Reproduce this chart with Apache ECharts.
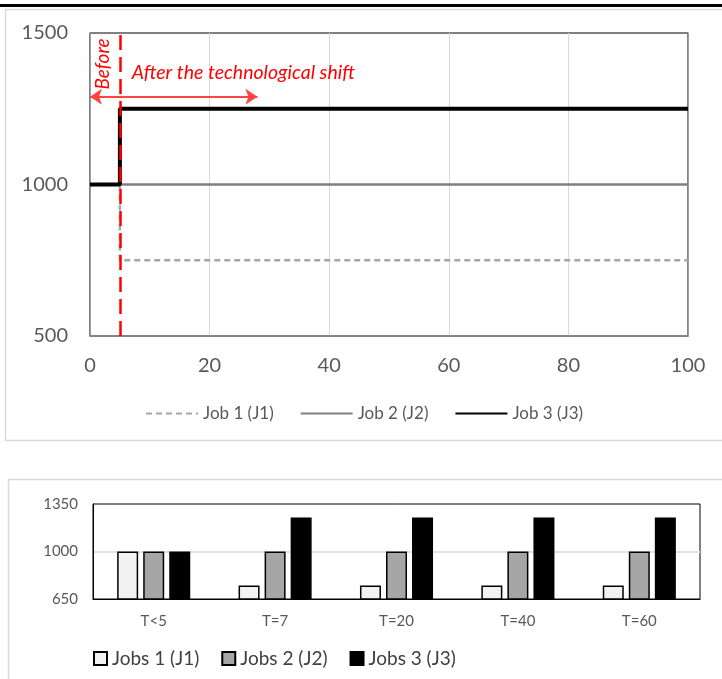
<!DOCTYPE html>
<html>
<head>
<meta charset="utf-8">
<script src="https://cdn.jsdelivr.net/npm/echarts@6/dist/echarts.min.js"></script>
<style>html,body{margin:0;padding:0;background:#fff;}#c{width:722px;height:679px;}</style>
</head>
<body>
<div id="c"></div>
<script>
// ---- top chart data ----
const jobX = [0, 5, 5, 100];
const job1 = [1000, 1000, 750, 750];
const job2 = [1000, 1000, 1000, 1000];
const job3 = [1000, 1000, 1250, 1250];
const lineNames = ['Job 1 (J1)', 'Job 2 (J2)', 'Job 3 (J3)'];
const shiftT = 5;
const arrowFrom = [0, 1290];
const arrowTo = [28, 1290];
const beforeAt = [2.2, 1398];
const afterAt = [7, 1368];
// ---- bottom chart data ----
const barCats = ['T<5', 'T=7', 'T=20', 'T=40', 'T=60'];
const jobs1 = [1000, 750, 750, 750, 750];
const jobs2 = [1000, 1000, 1000, 1000, 1000];
const jobs3 = [1000, 1250, 1250, 1250, 1250];
const barNames = ['Jobs 1 (J1)', 'Jobs 2 (J2)', 'Jobs 3 (J3)'];

const FONT = 'Lato, "Open Sans", sans-serif';
const pair = (ys) => jobX.map((x, i) => [x, ys[i]]);
const plain = (v) => String(v);

const chart = echarts.init(document.getElementById('c'), null, {renderer: 'canvas'});
const option = {
  animation: false,
  textStyle: {fontFamily: FONT},
  grid: [
    {left: 90, top: 33, width: 598, height: 303, show: true, borderColor: '#000', borderWidth: 1, backgroundColor: 'transparent'},
    {left: 93, top: 504, width: 607, height: 95, show: true, borderColor: '#000', borderWidth: 1, backgroundColor: 'transparent'}
  ],
  legend: [
    {data: lineNames, left: 140, top: 400, itemWidth: 52, itemHeight: 14, itemGap: 26,
     itemStyle: {opacity: 0, color: 'rgba(0,0,0,0)', borderWidth: 0},
     textStyle: {fontSize: 17, color: '#595959', fontFamily: FONT}},
    {data: barNames, left: 88, top: 644, icon: 'rect', itemWidth: 13, itemHeight: 13, itemGap: 22,
     textStyle: {fontSize: 19, color: '#404040', fontFamily: FONT}}
  ],
  xAxis: [
    {type: 'value', gridIndex: 0, min: 0, max: 100, interval: 20,
     axisLine: {show: true, lineStyle: {color: '#868686', width: 1.5}},
     axisTick: {show: false},
     splitLine: {show: true, lineStyle: {color: '#d9d9d9', width: 1}},
     axisLabel: {fontSize: 20, color: '#595959', margin: 20, fontFamily: FONT, formatter: plain}},
    {type: 'category', gridIndex: 1, data: barCats,
     axisLine: {show: true, lineStyle: {color: '#000', width: 1}},
     axisTick: {show: false},
     axisLabel: {fontSize: 15, color: '#595959', margin: 15, fontFamily: FONT}}
  ],
  yAxis: [
    {type: 'value', gridIndex: 0, min: 500, max: 1500, interval: 500,
     axisLine: {show: true, lineStyle: {color: '#868686', width: 1.5}},
     axisTick: {show: false},
     splitLine: {show: false},
     axisLabel: {fontSize: 20, color: '#595959', margin: 22, fontFamily: FONT, formatter: plain}},
    {type: 'value', gridIndex: 0, position: 'right', min: 500, max: 1500, interval: 500,
     axisLine: {show: true, lineStyle: {color: '#868686', width: 1.5}},
     axisTick: {show: false}, splitLine: {show: false}, axisLabel: {show: false}},
    {type: 'value', gridIndex: 1, min: 650, max: 1350, interval: 350,
     axisLine: {show: true, lineStyle: {color: '#000', width: 1}},
     axisTick: {show: false},
     splitLine: {show: true, showMinLine: false, showMaxLine: false, lineStyle: {color: '#e3e3e3', width: 2}},
     axisLabel: {fontSize: 15, color: '#595959', margin: 15, fontFamily: FONT, formatter: plain}}
  ],
  series: [
    {name: lineNames[0], type: 'line', xAxisIndex: 0, yAxisIndex: 0, data: pair(job1), symbol: 'none', z: 3,
     color: '#a6a6a6', lineStyle: {color: '#a6a6a6', width: 2.5, type: [6, 4]}},
    {name: lineNames[1], type: 'line', xAxisIndex: 0, yAxisIndex: 0, data: pair(job2), symbol: 'none', z: 2,
     color: '#808080', lineStyle: {color: '#808080', width: 2.5}},
    {name: lineNames[2], type: 'line', xAxisIndex: 0, yAxisIndex: 0, data: pair(job3), symbol: 'none', z: 4,
     color: '#000', lineStyle: {color: '#000', width: 4}},
    {name: 'markers', type: 'line', xAxisIndex: 0, yAxisIndex: 0, data: [], z: 6, silent: true,
     markLine: {silent: true, animation: false, symbol: 'none', label: {show: false},
       lineStyle: {color: '#ff0000', width: 2.5, type: [15, 7]},
       data: [{xAxis: shiftT}]}},
    {name: 'arrow', type: 'line', xAxisIndex: 0, yAxisIndex: 0, data: [], z: 6, silent: true,
     markLine: {silent: true, animation: false, symbol: ['arrow', 'arrow'], symbolSize: [12, 12], label: {show: false},
       lineStyle: {color: '#ff4444', width: 1.8, type: 'solid'},
       data: [[{coord: arrowFrom}, {coord: arrowTo}]]}},
    {name: barNames[0], type: 'bar', xAxisIndex: 1, yAxisIndex: 2, data: jobs1, barWidth: 21, barGap: '24%',
     itemStyle: {color: '#f2f2f2', borderColor: '#000', borderWidth: 1.5}},
    {name: barNames[1], type: 'bar', xAxisIndex: 1, yAxisIndex: 2, data: jobs2, barWidth: 21, barGap: '24%',
     itemStyle: {color: '#a6a6a6', borderColor: '#000', borderWidth: 1.5}},
    {name: barNames[2], type: 'bar', xAxisIndex: 1, yAxisIndex: 2, data: jobs3, barWidth: 21, barGap: '24%',
     itemStyle: {color: '#000', borderColor: '#000', borderWidth: 1.5}}
  ]
};
chart.setOption(option);

const pb = chart.convertToPixel({gridIndex: 0}, beforeAt);
const pa = chart.convertToPixel({gridIndex: 0}, afterAt);
chart.setOption({
  graphic: [
    {type: 'rect', shape: {x: 0, y: 4, width: 722, height: 3}, style: {fill: '#000'}, silent: true, z: -1},
    {type: 'rect', shape: {x: 5.5, y: 9.5, width: 730, height: 431}, style: {fill: 'none', stroke: '#d9d9d9', lineWidth: 1.5}, silent: true, z: -1},
    {type: 'rect', shape: {x: 8.5, y: 479.5, width: 730, height: 220}, style: {fill: 'none', stroke: '#d9d9d9', lineWidth: 1.5}, silent: true, z: -1},
    {type: 'text', x: pb[0], y: pb[1], rotation: Math.PI / 2, z: 10,
     style: {text: 'Before', fill: '#ff0000', font: 'italic 19px ' + FONT, align: 'center', verticalAlign: 'middle'}},
    {type: 'text', x: pa[0], y: pa[1], z: 10,
     style: {text: 'After the technological shift', fill: '#ff0000', font: 'italic 19.5px ' + FONT, align: 'left', verticalAlign: 'middle'}}
  ]
});
</script>
</body>
</html>
